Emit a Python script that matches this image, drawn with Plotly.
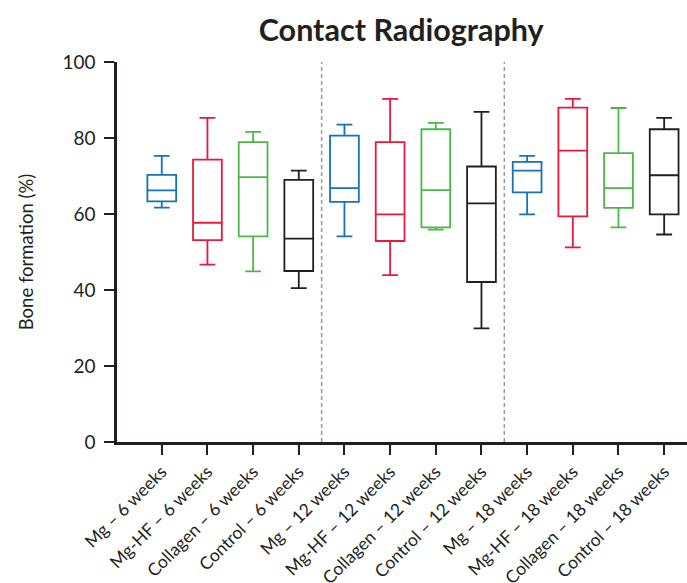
import plotly.graph_objects as go

categories = ["Mg – 6 weeks", "Mg-HF – 6 weeks", "Collagen – 6 weeks", "Control – 6 weeks",
              "Mg – 12 weeks", "Mg-HF – 12 weeks", "Collagen – 12 weeks", "Control – 12 weeks",
              "Mg – 18 weeks", "Mg-HF – 18 weeks", "Collagen – 18 weeks", "Control – 18 weeks"]
lower = [61.7, 46.7, 44.9, 40.5, 54.1, 43.9, 55.9, 29.9, 59.9, 51.2, 56.5, 54.6]
q1 = [63.3, 53.1, 54.1, 45.0, 63.2, 52.9, 56.5, 42.1, 65.7, 59.4, 61.6, 59.9]
median = [66.2, 57.7, 69.7, 53.5, 66.8, 59.9, 66.3, 62.8, 71.4, 76.7, 66.8, 70.2]
q3 = [70.3, 74.3, 78.9, 69.0, 80.6, 78.9, 82.3, 72.5, 73.7, 88.0, 76.0, 82.3]
upper = [75.3, 85.3, 81.6, 71.4, 83.5, 90.3, 84.0, 86.9, 75.3, 90.3, 87.9, 85.3]
group_colors = ["#1572bb", "#e8193c", "#4cb748", "#231f20"]
ytick_vals = [0, 20, 40, 60, 80, 100]
separators = [3.5, 7.5]

fig = go.Figure()
for i, cat in enumerate(categories):
    c = group_colors[i % 4]
    fig.add_trace(go.Box(
        x=[cat], q1=[q1[i]], median=[median[i]], q3=[q3[i]],
        lowerfence=[lower[i]], upperfence=[upper[i]],
        line=dict(color=c, width=1.8), fillcolor="white",
        width=0.63, whiskerwidth=0.55, showlegend=False, hoverinfo="skip",
    ))

for s in separators:
    fig.add_shape(type="line", xref="x", yref="y", x0=s, x1=s, y0=0, y1=100,
                  line=dict(color="#9a9a9a", width=1.5, dash="4px,3px"), layer="below")

fig.update_layout(
    width=687, height=583,
    margin=dict(l=117, r=0, t=62, b=141),
    paper_bgcolor="white", plot_bgcolor="white",
    font=dict(family="Lato", color="#231f20", size=16),
    title=dict(text="<b>Contact Radiography</b>", x=0.584, xanchor="center",
               y=0.948, yanchor="middle", font=dict(size=30.5, family="Lato", color="#231f20")),
)
fig.update_xaxes(
    type="category", categoryorder="array", categoryarray=categories,
    range=[-0.98, 11.5], tickangle=-45, ticks="outside", ticklen=10, tickwidth=2,
    tickcolor="#231f20", showline=True, linecolor="#231f20", linewidth=2.5,
    showgrid=False, zeroline=False, tickfont=dict(size=17.5), automargin=False,
)
fig.update_yaxes(
    range=[0, 100], tickvals=ytick_vals, ticks="outside", ticklen=10, tickwidth=2,
    tickcolor="#231f20", showline=True, linecolor="#231f20", linewidth=2.5,
    showgrid=False, zeroline=False, tickfont=dict(size=19), ticklabelstandoff=5,
    title=dict(text="Bone formation (%)", font=dict(size=18.5), standoff=24),
    automargin=False,
)
fig.write_html("out.html")
